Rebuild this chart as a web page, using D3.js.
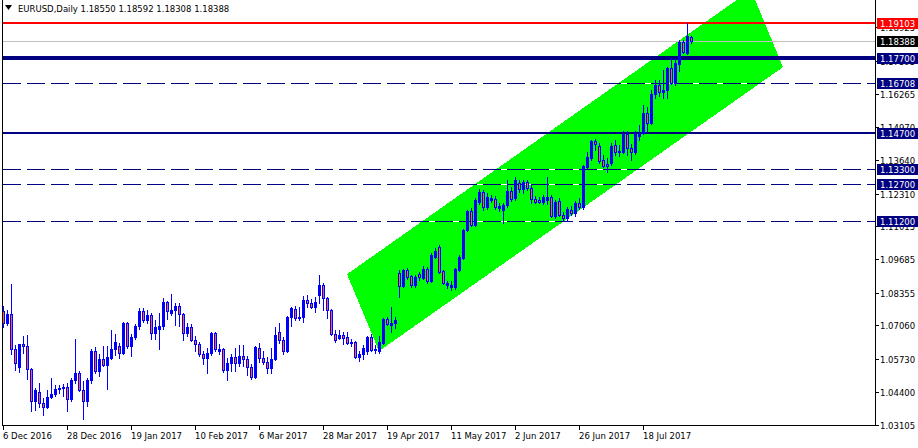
<!DOCTYPE html>
<html><head><meta charset="utf-8">
<script src="https://cdn.jsdelivr.net/npm/d3@7"></script>
<style>
body{margin:0;background:#fff;overflow:hidden}
svg{display:block}
text{font-family:"DejaVu Sans",Tahoma,sans-serif;font-size:8.5px}
</style>
</head><body>
<svg id="c" width="918" height="448"></svg>
<script>
// ---------- data ----------
const symbolTitle = "EURUSD,Daily";
const lastQuote = ["1.18550", "1.18592", "1.18308", "1.18388"];

const dateTickBars = [0, 16, 32, 48, 64, 80, 96, 112, 128, 144, 160];
const dateTickLabels = ["6 Dec 2016", "28 Dec 2016", "19 Jan 2017", "10 Feb 2017", "6 Mar 2017",
  "28 Mar 2017", "19 Apr 2017", "11 May 2017", "2 Jun 2017", "26 Jun 2017", "18 Jul 2017"];

const priceTicks = [1.18925, 1.17595, 1.16265, 1.14970, 1.13640, 1.12310, 1.11015,
  1.09685, 1.08355, 1.07060, 1.05730, 1.04400, 1.03105];

const open = [
1.0762,1.0714,1.0750,1.0614,1.0542,1.0634,1.0626,1.0534,1.0406,1.0442,
1.0398,1.0382,1.0422,1.0434,1.0454,1.0458,1.0462,1.0414,1.0490,1.0518,
1.0450,1.0406,1.0490,1.0606,1.0526,1.0574,1.0550,1.0578,1.0614,1.0626,
1.0598,1.0714,1.0626,1.0662,1.0702,1.0762,1.0726,1.0746,1.0678,1.0690,
1.0702,1.0798,1.0754,1.0766,1.0782,1.0750,1.0678,1.0698,1.0650,1.0634,
1.0594,1.0578,1.0598,1.0678,1.0606,1.0614,1.0530,1.0558,1.0582,1.0558,
1.0586,1.0574,1.0542,1.0502,1.0618,1.0578,1.0562,1.0538,1.0574,1.0682,
1.0650,1.0606,1.0738,1.0770,1.0734,1.0738,1.0806,1.0794,1.0778,1.0826,
1.0866,1.0814,1.0766,1.0674,1.0658,1.0670,1.0662,1.0638,1.0642,1.0582,
1.0594,1.0606,1.0662,1.0610,1.0606,1.0638,1.0730,1.0706,1.0714,1.0913,
1.0862,1.0925,1.0902,1.0866,1.0910,1.0894,1.0929,1.0882,1.0977,1.1017,
1.0921,1.0866,1.0858,1.0858,1.0925,1.0973,1.1085,1.1161,1.1105,1.1197,
1.1237,1.1177,1.1205,1.1209,1.1173,1.1165,1.1185,1.1241,1.1213,1.1273,
1.1249,1.1277,1.1253,1.1209,1.1205,1.1197,1.1205,1.1217,1.1141,1.1201,
1.1145,1.1133,1.1165,1.1153,1.1193,1.1177,1.1336,1.1372,1.1440,1.1420,
1.1364,1.1348,1.1352,1.1424,1.1396,1.1396,1.1468,1.1412,1.1396,1.1460,
1.1472,1.1551,1.1511,1.1627,1.1663,1.1635,1.1643,1.1730,1.1671,1.1746,
1.1834,1.1790,1.18550];
const high = [
1.0782,1.0766,1.0870,1.0630,1.0634,1.0666,1.0670,1.0538,1.0458,1.0478,
1.0418,1.0450,1.0498,1.0470,1.0469,1.0474,1.0478,1.0498,1.0654,1.0526,
1.0486,1.0498,1.0614,1.0622,1.0594,1.0626,1.0626,1.0686,1.0674,1.0638,
1.0718,1.0718,1.0674,1.0710,1.0774,1.0774,1.0766,1.0754,1.0726,1.0754,
1.0814,1.0802,1.0830,1.0794,1.0794,1.0754,1.0714,1.0710,1.0666,1.0642,
1.0606,1.0618,1.0682,1.0682,1.0634,1.0618,1.0578,1.0594,1.0618,1.0630,
1.0630,1.0586,1.0554,1.0626,1.0638,1.0606,1.0582,1.0618,1.0698,1.0714,
1.0662,1.0742,1.0778,1.0782,1.0778,1.0822,1.0826,1.0810,1.0818,1.0906,
1.0874,1.0818,1.0770,1.0686,1.0686,1.0682,1.0682,1.0654,1.0646,1.0606,
1.0630,1.0666,1.0674,1.0630,1.0666,1.0734,1.0738,1.0778,1.0738,1.0925,
1.0929,1.0933,1.0906,1.0906,1.0917,1.0941,1.0937,1.0993,1.1013,1.1025,
1.0925,1.0882,1.0882,1.0933,1.0985,1.1089,1.1165,1.1173,1.1213,1.1249,
1.1245,1.1233,1.1225,1.1221,1.1193,1.1193,1.1285,1.1257,1.1297,1.1285,
1.1285,1.1285,1.1269,1.1221,1.1217,1.1225,1.1297,1.1225,1.1205,1.1213,
1.1157,1.1177,1.1181,1.1201,1.1213,1.1344,1.1396,1.1444,1.1448,1.1432,
1.1384,1.1372,1.1432,1.1444,1.1424,1.1480,1.1480,1.1428,1.1480,1.1504,
1.1583,1.1575,1.1643,1.1683,1.1683,1.1722,1.1734,1.1770,1.1770,1.1842,
1.1842,1.19103,1.18592];
const low = [
1.0698,1.0706,1.0594,1.0530,1.0522,1.0598,1.0494,1.0366,1.0370,1.0382,
1.0350,1.0378,1.0418,1.0426,1.0438,1.0426,1.0366,1.0406,1.0478,1.0446,
1.0334,1.0386,1.0478,1.0518,1.0506,1.0546,1.0454,1.0574,1.0590,1.0578,
1.0594,1.0618,1.0586,1.0654,1.0690,1.0718,1.0714,1.0654,1.0654,1.0614,
1.0690,1.0730,1.0746,1.0706,1.0702,1.0650,1.0666,1.0646,1.0606,1.0586,
1.0554,1.0518,1.0590,1.0606,1.0594,1.0522,1.0490,1.0526,1.0526,1.0546,
1.0546,1.0510,1.0494,1.0498,1.0562,1.0554,1.0518,1.0518,1.0570,1.0638,
1.0594,1.0602,1.0702,1.0726,1.0726,1.0718,1.0778,1.0774,1.0758,1.0794,
1.0766,1.0734,1.0670,1.0642,1.0654,1.0634,1.0634,1.0626,1.0578,1.0566,
1.0574,1.0594,1.0606,1.0598,1.0598,1.0634,1.0706,1.0682,1.0694,1.0818,
1.0858,1.0890,1.0858,1.0858,1.0886,1.0890,1.0874,1.0878,1.0973,1.0913,
1.0870,1.0854,1.0846,1.0850,1.0921,1.0969,1.1081,1.1101,1.1101,1.1189,
1.1165,1.1169,1.1197,1.1169,1.1161,1.1113,1.1177,1.1201,1.1205,1.1237,
1.1233,1.1245,1.1193,1.1193,1.1193,1.1189,1.1189,1.1137,1.1133,1.1141,
1.1125,1.1121,1.1145,1.1141,1.1169,1.1169,1.1332,1.1364,1.1404,1.1352,
1.1336,1.1316,1.1344,1.1384,1.1380,1.1392,1.1384,1.1364,1.1388,1.1444,
1.1468,1.1476,1.1507,1.1611,1.1619,1.1611,1.1611,1.1667,1.1663,1.1718,
1.1790,1.1786,1.18308];
const close = [
1.0714,1.0750,1.0614,1.0558,1.0634,1.0626,1.0534,1.0406,1.0450,1.0398,
1.0382,1.0422,1.0434,1.0454,1.0458,1.0462,1.0414,1.0490,1.0518,1.0450,
1.0406,1.0490,1.0606,1.0526,1.0574,1.0550,1.0582,1.0614,1.0642,1.0598,
1.0714,1.0626,1.0662,1.0702,1.0762,1.0726,1.0746,1.0678,1.0698,1.0702,
1.0798,1.0762,1.0766,1.0782,1.0750,1.0678,1.0698,1.0650,1.0634,1.0594,
1.0578,1.0598,1.0678,1.0614,1.0614,1.0530,1.0558,1.0582,1.0558,1.0586,
1.0574,1.0542,1.0502,1.0622,1.0578,1.0562,1.0538,1.0574,1.0670,1.0650,
1.0606,1.0738,1.0774,1.0734,1.0738,1.0806,1.0794,1.0778,1.0798,1.0866,
1.0814,1.0766,1.0674,1.0650,1.0670,1.0658,1.0638,1.0642,1.0582,1.0594,
1.0618,1.0662,1.0610,1.0614,1.0642,1.0730,1.0710,1.0714,1.0726,1.0862,
1.0925,1.0898,1.0866,1.0898,1.0898,1.0929,1.0882,1.0985,1.1001,1.0917,
1.0874,1.0874,1.0866,1.0929,1.0977,1.1085,1.1161,1.1105,1.1205,1.1237,
1.1177,1.1217,1.1213,1.1177,1.1181,1.1185,1.1241,1.1209,1.1285,1.1249,
1.1277,1.1253,1.1209,1.1197,1.1197,1.1217,1.1217,1.1141,1.1197,1.1145,
1.1133,1.1169,1.1153,1.1193,1.1177,1.1340,1.1376,1.1440,1.1428,1.1360,
1.1340,1.1340,1.1420,1.1396,1.1400,1.1468,1.1412,1.1396,1.1468,1.1468,
1.1551,1.1511,1.1627,1.1663,1.1635,1.1643,1.1730,1.1671,1.1750,1.1834,
1.1794,1.1856,1.18388];

// horizontal level lines (price) and their label texts
const levelPrices = [1.19103, 1.18388, 1.17700, 1.16708, 1.14700, 1.13300, 1.12700, 1.11200];
const levelLabels = ["1.19103", "1.18388", "1.17700", "1.16708", "1.14700", "1.13300", "1.12700", "1.11200"];

// channel corners: [bar index, price]
const channelBars = [86, 94, 195, 187];
const channelPrices = [1.0910, 1.0604, 1.1734, 1.2041];

// ---------- styles ----------
const levelStyle = [
  {stroke:"#FF0000", w:2, dash:null, box:"#FF0000"},
  {stroke:"#C0C0C0", w:1, dash:null, box:"#000000"},
  {stroke:"#000080", w:4, dash:null, box:"#000080"},
  {stroke:"#000080", w:1, dash:"18,6", box:"#000080"},
  {stroke:"#000080", w:2, dash:null, box:"#000080"},
  {stroke:"#000080", w:1, dash:"18,6", box:"#000080"},
  {stroke:"#000080", w:1, dash:"18,6", box:"#000080"},
  {stroke:"#000080", w:1, dash:"18,6", box:"#000080"}
];
const BULL = "#0000FF", BEAR_FILL = "#FF6030", CHANNEL = "#00FF00";

// ---------- layout ----------
const L = 2, R = 875, T = 0, B = 425;
const svg = d3.select("#c");
const x = d3.scaleLinear().domain([0, 218]).range([3, 875]);
const y = d3.scaleLinear().domain([1.2001, 1.0310]).range([0, 425]);

svg.append("rect").attr("width", 918).attr("height", 448).attr("fill", "#fff");
svg.append("defs").append("clipPath").attr("id", "plot")
  .append("rect").attr("x", L).attr("y", T).attr("width", R - L).attr("height", B - T);
const plot = svg.append("g").attr("clip-path", "url(#plot)");

// channel
const chPts = channelBars.map((b, k) => [x(b), y(channelPrices[k])]);
plot.append("path").attr("d", d3.line()(chPts) + "Z").attr("fill", CHANNEL).attr("shape-rendering", "crispEdges");

// level lines
levelPrices.forEach((p, k) => {
  const s = levelStyle[k];
  let yy = Math.round(y(p));
  if (s.w % 2 === 1) yy += 0.5;
  if (s.dash) {
    plot.append("line").attr("x1", L).attr("x2", R).attr("y1", yy).attr("y2", yy)
      .attr("stroke", "#fff").attr("stroke-width", 1);
  }
  const ln = plot.append("line").attr("x1", 3).attr("x2", R).attr("y1", yy).attr("y2", yy)
    .attr("stroke", s.stroke).attr("stroke-width", s.w).attr("shape-rendering", "crispEdges");
  if (s.dash) ln.attr("stroke-dasharray", s.dash);
});

// candles
const bars = d3.range(open.length).map(i => ({i, o: open[i], h: high[i], l: low[i], c: close[i]}));
const cg = plot.append("g").attr("shape-rendering", "crispEdges");
bars.forEach(d => {
  const cx = Math.round(x(d.i));
  const yh = Math.round(y(d.h)), yl = Math.round(y(d.l));
  const yt = Math.round(y(Math.max(d.o, d.c))), yb = Math.round(y(Math.min(d.o, d.c)));
  cg.append("rect").attr("x", cx).attr("y", yh).attr("width", 1).attr("height", Math.max(1, yl - yh + 1)).attr("fill", BULL);
  const bh = Math.max(1, yb - yt + 1);
  cg.append("rect").attr("x", cx - 1).attr("y", yt).attr("width", 3).attr("height", bh).attr("fill", BULL);
  if (d.c < d.o && bh > 2) {
    cg.append("rect").attr("x", cx).attr("y", yt + 1).attr("width", 1).attr("height", bh - 2).attr("fill", BEAR_FILL);
  }
});

// frame
svg.append("path").attr("d", `M${L + 0.5},${T}V${B + 0.5}H${R + 0.5}V${T}`)
  .attr("fill", "none").attr("stroke", "#000").attr("stroke-width", 1).attr("shape-rendering", "crispEdges");

// right price axis
const yAxis = svg.append("g");
priceTicks.forEach(p => {
  const yy = Math.round(y(p)) + 0.5;
  yAxis.append("line").attr("x1", R).attr("x2", R + 4).attr("y1", yy).attr("y2", yy)
    .attr("stroke", "#000").attr("shape-rendering", "crispEdges");
  yAxis.append("text").attr("x", 880).attr("y", yy + 3.5).attr("fill", "#000").text(d3.format(".5f")(p));
});

// level label boxes
levelPrices.forEach((p, k) => {
  const yy = Math.round(y(p));
  svg.append("rect").attr("x", 877).attr("y", yy - 5).attr("width", 41).attr("height", 11)
    .attr("fill", levelStyle[k].box);
  svg.append("text").attr("x", 880).attr("y", yy + 3.5).attr("fill", "#fff").text(levelLabels[k]);
});

// bottom date axis
dateTickBars.forEach((b, k) => {
  const xx = Math.round(x(b)) + 0.5;
  svg.append("line").attr("x1", xx).attr("x2", xx).attr("y1", B).attr("y2", B + 5)
    .attr("stroke", "#000").attr("shape-rendering", "crispEdges");
  svg.append("text").attr("x", xx - 0.5).attr("y", 439).attr("fill", "#000").text(dateTickLabels[k]);
});

// header
svg.append("path").attr("d", "M5,5H12L8.5,10Z").attr("fill", "#000");
svg.append("text").attr("x", 18).attr("y", 12).attr("fill", "#000")
  .text(symbolTitle + "  " + lastQuote.join(" "));
</script>
</body></html>
